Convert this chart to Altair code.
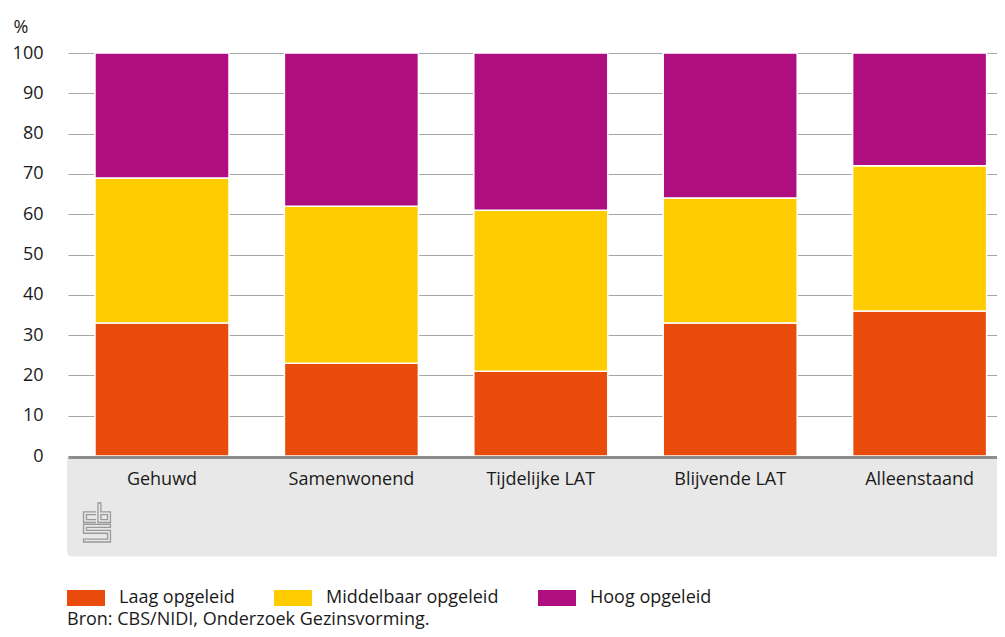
import altair as alt
import pandas as pd

categories = ["Gehuwd", "Samenwonend", "Tijdelijke LAT", "Blijvende LAT", "Alleenstaand"]
laag = [33, 23, 21, 33, 36]
middelbaar = [36, 39, 40, 31, 36]
hoog = [31, 38, 39, 36, 28]
series = ["Laag opgeleid", "Middelbaar opgeleid", "Hoog opgeleid"]
colors = ["#e94c0a", "#ffcc00", "#af0e80"]
y_ticks = [0, 10, 20, 30, 40, 50, 60, 70, 80, 90, 100]
source = ["Bron: CBS/NIDI, Onderzoek Gezinsvorming."]

rows = []
for i, c in enumerate(categories):
    for k, vals in enumerate([laag, middelbaar, hoog]):
        rows.append({"cat": c, "serie": series[k], "ord": k, "value": vals[i]})
df = pd.DataFrame(rows)

W, H = 929, 403
FONT = "Open Sans"
TXT = "#1a1a1a"

LOGO = ("M-0.05,-0.55H-0.69V0H-0.05 M-0.05,-0.4H-0.54V-0.15H-0.05 "
        "M0.05,-1V0H0.69V-0.55H0.2V-1Z M0.2,-0.4H0.54V-0.15H0.2Z "
        "M0.69,0.1H-0.69V0.55H0.54V0.85H-0.69V1H0.69V0.4H-0.54V0.25H0.69Z")

xscale = alt.Scale(domain=categories, paddingInner=0.2925, paddingOuter=0.0987, align=0.722)

one = pd.DataFrame({"a": [0]})

panel = alt.Chart(one).mark_rect(color="#e8e8e8", cornerRadiusBottomLeft=5).encode(
    x=alt.value(-1), x2=alt.value(W), y=alt.value(H + 2.5), y2=alt.value(H + 100.5)
)

bars = alt.Chart(df).mark_bar(stroke="white", strokeWidth=1.5).encode(
    x=alt.X("cat:N", scale=xscale, sort=categories,
            axis=alt.Axis(title=None, labelAngle=0, labelFontSize=18, labelFont=FONT,
                          labelColor=TXT, labelPadding=13, ticks=False, tickSize=0,
                          domainColor="#8c8c8c", domainWidth=3, offset=1, zindex=2)),
    y=alt.Y("value:Q", stack="zero", scale=alt.Scale(domain=[0, 100], nice=False),
            axis=alt.Axis(values=y_ticks, title="%", titleAngle=0, titleX=-55, titleY=-21,
                          titleAlign="left", titleBaseline="alphabetic", titleFontSize=18,
                          titleFont=FONT, titleFontWeight="normal", titleColor=TXT,
                          ticks=False, tickSize=0, domain=False, grid=True,
                          gridColor="#a6a6a6", gridWidth=1, labelPadding=25,
                          labelFontSize=18, labelFont=FONT, labelColor=TXT)),
    color=alt.Color("serie:N", scale=alt.Scale(domain=series, range=colors),
                    legend=alt.Legend(title=None, orient="none", legendX=-1, legendY=526,
                                      direction="horizontal",
                                      symbolType="M-1,-0.42H1V0.42H-1Z", symbolSize=1444,
                                      symbolStrokeWidth=0, symbolOpacity=1,
                                      labelFontSize=18, labelFont=FONT, labelColor=TXT,
                                      labelLimit=400, labelOffset=14, columnPadding=39,
                                      padding=0)),
    order=alt.Order("ord:Q"),
)

logo = alt.Chart(one).mark_point(shape=LOGO, size=1521, filled=False, color="#999999",
                                 strokeWidth=1.3, opacity=1).encode(
    x=alt.value(29), y=alt.value(469.5)
)

src = alt.Chart(pd.DataFrame({"t": source})).mark_text(
    align="left", baseline="alphabetic", fontSize=18, font=FONT, color=TXT
).encode(text="t:N", x=alt.value(-1), y=alt.value(572))

chart = alt.layer(panel, bars, logo, src).properties(
    width=W, height=H,
    padding={"left": 60, "top": 45, "right": 0, "bottom": 173},
    autosize=alt.AutoSizeParams(type="none"),
).configure(font=FONT).configure_view(stroke=None)

chart.save("out.html", embed_options={"renderer": "svg", "actions": False})
